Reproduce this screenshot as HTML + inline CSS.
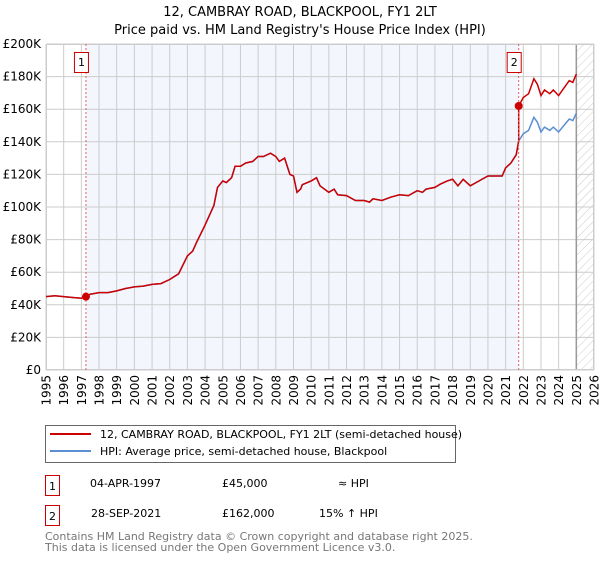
<!DOCTYPE html>
<html><head><meta charset="utf-8"><style>
body{margin:0;background:#fff;font-family:"DejaVu Sans","Liberation Sans",sans-serif;}
svg text{font-family:"DejaVu Sans","Liberation Sans",sans-serif;}
</style></head><body>
<svg id="c" width="600" height="560" viewBox="0 0 600 560" xmlns="http://www.w3.org/2000/svg">
<defs><pattern id="hatch" width="6" height="6" patternUnits="userSpaceOnUse" patternTransform="rotate(45)"><line x1="0" y1="0" x2="0" y2="6" stroke="#ccc" stroke-width="1"/></pattern></defs>
<text x="300" y="16" text-anchor="middle" font-size="13" fill="#000">12, CAMBRAY ROAD, BLACKPOOL, FY1 2LT</text>
<text x="300" y="34" text-anchor="middle" font-size="13" fill="#000">Price paid vs. HM Land Registry's House Price Index (HPI)</text>
<g id="plot"></g>
<g>
<rect x="45.5" y="425.5" width="410" height="37" fill="#fff" stroke="#666"/>
<line x1="50" y1="434" x2="91" y2="434" stroke="#cc0000" stroke-width="2"/>
<text x="100" y="438" font-size="11">12, CAMBRAY ROAD, BLACKPOOL, FY1 2LT (semi-detached house)</text>
<line x1="50" y1="451" x2="91" y2="451" stroke="#5b8fd4" stroke-width="2"/>
<text x="100" y="455" font-size="11">HPI: Average price, semi-detached house, Blackpool</text>
</g>
<g font-size="11">
<rect x="45.5" y="475.5" width="14" height="20" fill="#fff" stroke="#cc0000"/><text x="52.5" y="490" text-anchor="middle">1</text>
<text x="90" y="487">04-APR-1997</text><text x="222" y="487">£45,000</text><text x="338" y="487">≈ HPI</text>
<rect x="45.5" y="505.5" width="14" height="20" fill="#fff" stroke="#cc0000"/><text x="52.5" y="520" text-anchor="middle">2</text>
<text x="91" y="517">28-SEP-2021</text><text x="222" y="517">£162,000</text><text x="319" y="517">15% ↑ HPI</text>
</g>
<text x="45" y="540" font-size="11" fill="#777">Contains HM Land Registry data © Crown copyright and database right 2025.</text>
<text x="45" y="551" font-size="11" fill="#777">This data is licensed under the Open Government Licence v3.0.</text>
</svg>
<script>
const hpiDates=[1995,1995.5,1996,1996.5,1997,1997.26,1997.5,1998,1998.5,1999,1999.5,2000,2000.5,2001,2001.5,2002,2002.5,2003,2003.3,2003.5,2004,2004.5,2004.7,2005,2005.2,2005.5,2005.7,2006,2006.3,2006.7,2007,2007.3,2007.7,2008,2008.2,2008.5,2008.8,2009,2009.2,2009.4,2009.5,2010,2010.3,2010.5,2011,2011.3,2011.5,2012,2012.5,2013,2013.3,2013.5,2014,2014.5,2015,2015.5,2016,2016.3,2016.5,2017,2017.3,2017.7,2018,2018.3,2018.6,2019,2019.5,2020,2020.5,2020.8,2021,2021.3,2021.6,2021.74,2022,2022.3,2022.6,2022.8,2023,2023.2,2023.5,2023.7,2024,2024.3,2024.6,2024.8,2025];
const hpiValues=[45,45.5,45,44.5,44,45,46.5,47.5,47.5,48.5,50,51,51.5,52.5,53,55.5,59,70,73,78,89,101,112,116,115,118,125,125,127,128,131,131,133,131,128,130,120,119,109,111,113.7,116,118,113,109,111,107.5,107,104,104,103,105,104,106,107.5,107,110,109,111,112,114,116,117,113,117,113,116,119,119,119,124,127,132,140.5,145,147,155,152,146,149,147,149,146,150,154,153,157.5];
const saleDates=[1997.26,2021.74];
const salePrices=[45,162];
const yTicks=[0,20,40,60,80,100,120,140,160,180,200];
const xYears=[1995,1996,1997,1998,1999,2000,2001,2002,2003,2004,2005,2006,2007,2008,2009,2010,2011,2012,2013,2014,2015,2016,2017,2018,2019,2020,2021,2022,2023,2024,2025,2026];
const L=46,R=594,T=44,B=370;
const X=d=>L+(d-1995)/(2026-1995)*(R-L);
const Y=v=>B-v/200*(B-T);
const NS="http://www.w3.org/2000/svg";
const g=document.getElementById('plot');
function mk(tag,attrs,parent){const e=document.createElementNS(NS,tag);for(const k in attrs)e.setAttribute(k,attrs[k]);(parent||g).appendChild(e);return e;}
function hpiAt(d){for(let i=1;i<hpiDates.length;i++){if(d<=hpiDates[i]){const t=(d-hpiDates[i-1])/(hpiDates[i]-hpiDates[i-1]);return hpiValues[i-1]+t*(hpiValues[i]-hpiValues[i-1]);}}return hpiValues[hpiValues.length-1];}
let e=mk('rect',{x:L,y:T,width:R-L,height:B-T,fill:'#fff'});

e=mk('rect',{x:X(saleDates[0]),y:T,width:X(saleDates[1])-X(saleDates[0]),height:B-T,fill:'#f3f6fd'});

e=mk('rect',{x:X(2025),y:T,width:R-X(2025),height:B-T,fill:'url(#hatch)'});

yTicks.forEach(v=>{
 const l=mk('line',{x1:L,x2:R,y1:Y(v),y2:Y(v),stroke:'#ccc','stroke-width':1});
 
 const t=mk('text',{x:L-5,y:Y(v)+4,'text-anchor':'end','font-size':12,fill:'#000'});
 t.textContent=v===0?'£0':'£'+v+'K';
 
});
xYears.forEach(yr=>{
 const l=mk('line',{x1:X(yr),x2:X(yr),y1:T,y2:B,stroke:'#ccc','stroke-width':1});
 
 const wrap=mk('g',{transform:'translate('+(X(yr)+4.5).toFixed(1)+','+(B+5)+') rotate(-90)'});
 const t=mk('text',{x:0,y:0,'text-anchor':'end','font-size':12,fill:'#000'},wrap);
 t.textContent=yr;
 
});
e=mk('line',{x1:X(2025),x2:X(2025),y1:T,y2:B,stroke:'#999','stroke-width':1.5});

e=mk('rect',{x:L+0.5,y:T+0.5,width:R-L-1,height:B-T-1,fill:'none',stroke:'#ccc'});

let p=hpiDates.map((d,i)=>(i?'L':'M')+X(d).toFixed(1)+','+Y(hpiValues[i]).toFixed(1)).join('');
e=mk('path',{d:p,fill:'none',stroke:'#5b8fd4','stroke-width':1.5});

let pts=[];
hpiDates.forEach((d,i)=>{
 let k=-1;for(let j=0;j<saleDates.length;j++)if(d>=saleDates[j])k=j;
 let f=k<0?salePrices[0]/hpiAt(saleDates[0]):salePrices[k]/hpiAt(saleDates[k]);
 if(k===1&&pts.length&&d===saleDates[1]){pts.push([d,hpiValues[i]*salePrices[0]/hpiAt(saleDates[0])]);}
 pts.push([d,hpiValues[i]*f]);
});
p=pts.map((q,i)=>(i?'L':'M')+X(q[0]).toFixed(1)+','+Y(q[1]).toFixed(1)).join('');
e=mk('path',{d:p,fill:'none',stroke:'#cc0000','stroke-width':1.5});

saleDates.forEach((d,i)=>{
 const l=mk('line',{x1:X(d),x2:X(d),y1:T,y2:B,stroke:'#e06060','stroke-width':1,'stroke-dasharray':'2,2'});
 
 const c=mk('circle',{cx:X(d),cy:Y(salePrices[i]),r:4,fill:'#cc0000'});
 
 const r=mk('rect',{x:X(d)-11.5,y:T+8.5,width:14,height:20,fill:'#fff',stroke:'#cc0000'});
 
 const t=mk('text',{x:X(d)-4.5,y:T+22,'text-anchor':'middle','font-size':11});
 t.textContent=String(i+1);
 
});
</script>
</body></html>
